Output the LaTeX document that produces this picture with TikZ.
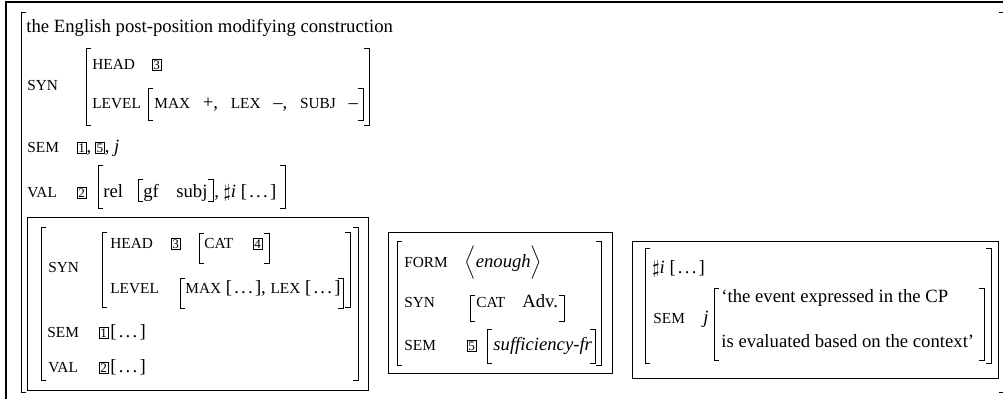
\documentclass[tikz,border=0pt]{standalone}
\usepackage{fontspec}
\setmainfont{Liberation Serif}
\usetikzlibrary{positioning}

\newcommand{\fsc}{\fontsize{8.2}{10}\selectfont}
\newcommand{\fc}[1]{{\fsc #1}}
\newcommand{\elid}{[\kern0.12em.\kern0.12em.\kern0.12em.\kern0.12em]}
\newcommand{\lbrak}[3]{\draw[brak] (#1+5,#2) -| (#1,#3) -- (#1+5,#3);}
\newcommand{\rbrak}[3]{\draw[brak] (#1-5,#2) -| (#1,#3) -- (#1-5,#3);}

\begin{document}
\begin{tikzpicture}[x=0.535pt,y=-0.535pt,
  brak/.style={line width=0.5pt},
  panel/.style={draw,line width=0.5pt},
  lbl/.style={anchor=base west,inner sep=0pt,font=\fsc},
  txt/.style={anchor=base west,inner sep=0pt},
  tag/.style={draw,line width=0.3pt,inner sep=0.55pt,anchor=base west,font=\fontsize{7}{7}\selectfont}]
\useasboundingbox (0,0) rectangle (1003,399);
\clip (0,0) rectangle (1003,399);
\draw[line width=0.7pt] (6,399) -- (6,2) -- (1003,2);

% outer structure
\lbrak{21}{12}{392}
\rbrak{1004}{12}{392}
\node[txt] (title) at (26,32) {the English post-position modifying construction};

\node[lbl] (syn) at (27,90) {SYN};
\lbrak{86}{48}{125}
\node[lbl] (head) at (92,69) {HEAD};
\node[tag] (h3) at (152,69) {3};
\node[lbl] (level) at (92,108) {LEVEL};
\lbrak{148}{88}{120}
\node[txt] (lev) at (154,108) {\fc{MAX}\hspace{0.68em}+,\hspace{0.68em}\fc{LEX}\hspace{0.68em}--,\hspace{0.68em}\fc{SUBJ}\hspace{0.68em}--};
\rbrak{363}{88}{120}
\rbrak{369}{48}{125}

\node[lbl] (sem) at (27,152) {SEM};
\node[tag] (s1) at (77,152) {1};
\node[txt] (c1) at (s1.base east) {,};
\node[tag] (s5) at ([xshift=2pt]c1.base east) {5};
\node[txt] (c2) at (s5.base east) {, \textit{j}};

\node[lbl] (val) at (27,197) {VAL};
\node[tag] (v2) at (77,197) {2};
\lbrak{98}{165}{208}
\node[txt] (rel) at (103,197) {rel};
\lbrak{138}{179}{201}
\node[txt] (gf) at (143,197) {gf};
\node[txt] (subj) at (176,197) {subj};
\rbrak{213}{179}{201}
\node[txt] (sharp) at (214,197) {, $\sharp$\textit{i} \elid};
\rbrak{285}{165}{208}

% daughter box
\draw[panel] (27,217) rectangle (368,390);
\lbrak{41}{227}{380}
\rbrak{358}{227}{380}
\node[lbl] (dsyn) at (48,272) {SYN};
\lbrak{102}{232}{307}
\node[lbl] (dhead) at (110,248) {HEAD};
\node[tag] (d3) at (171,248) {3};
\lbrak{199}{233}{263}
\node[lbl] (dcat) at (204,248) {CAT};
\node[tag] (d4) at (253,248) {4};
\rbrak{269}{233}{263}
\node[lbl] (dlevel) at (110,293) {LEVEL};
\lbrak{180}{278}{308}
\node[txt] (dlev) at (185,293) {\fc{MAX} \elid, \fc{LEX} \elid};
\rbrak{343}{278}{308}
\rbrak{350}{232}{307}
\node[lbl] (dsem) at (47,337) {SEM};
\node[tag] (d1) at (99,337) {1};
\node[txt] (d1v) at (110,337) {\elid};
\node[lbl] (dval) at (48,372) {VAL};
\node[tag] (d2) at (99,372) {2};
\node[txt] (d2v) at (110,372) {\elid};

% enough box
\draw[panel] (388,232) rectangle (612,373);
\lbrak{397}{241}{365}
\rbrak{601}{241}{365}
\node[lbl] (form) at (404,267) {FORM};
\node[txt] (formv) at (464,267) {$\Big\langle$\textit{enough}$\Big\rangle$};
\node[lbl] (esyn) at (404,307) {SYN};
\lbrak{470}{295}{321}
\node[lbl] (ecat) at (476,307) {CAT};
\node[txt] (adv) at (522,307) {Adv.};
\rbrak{564}{295}{321}
\node[lbl] (esem) at (404,350) {SEM};
\node[tag] (e5) at (467,350) {5};
\lbrak{487}{329}{363}
\node[txt] (suff) at (493,350) {\textit{sufficiency-fr}};
\rbrak{595}{329}{363}

% context box
\draw[panel] (632,241) rectangle (998,378);
\lbrak{645}{248}{363}
\rbrak{991}{248}{363}
\node[txt] (ci) at (652,273) {$\sharp$\textit{i} \elid};
\node[lbl] (csem) at (653,323) {SEM};
\node[txt] (cj) at (703,323) {\textit{j}};
\lbrak{714}{288}{360}
\node[txt] (cl1) at (721,302) {`the event expressed in the CP};
\node[txt] (cl2) at (721,347) {is evaluated based on the context'};
\rbrak{984}{288}{360}
\end{tikzpicture}
\end{document}
